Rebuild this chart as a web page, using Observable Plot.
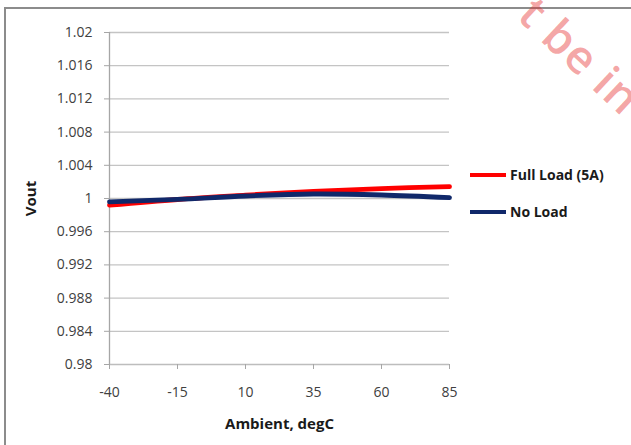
<!DOCTYPE html>
<html>
<head>
<meta charset="utf-8">
<script src="https://cdn.jsdelivr.net/npm/d3@7"></script>
<script src="https://cdn.jsdelivr.net/npm/@observablehq/plot@0.6"></script>
<style>
  html, body { margin: 0; padding: 0; background: #fff; }
  #wrap { position: relative; width: 631px; height: 445px; overflow: hidden; font-family: "Open Sans", sans-serif; }
  #frame { position: absolute; left: 4px; top: 7px; width: 640px; height: 460px; border-left: 2px solid #8c8c8c; border-top: 2px solid #8c8c8c; }
  #chart { position: absolute; left: 0; top: 0; }
  .legend { position: absolute; left: 470px; font-family: "Open Sans", sans-serif; font-weight: bold; font-size: 14px; color: #1a1a1a; display: flex; align-items: center; }
  .legend span.sw { display: inline-block; width: 36px; height: 4px; margin-right: 4px; }
  #wm { position: absolute; left: 549px; top: -18px; transform-origin: 0 0; transform: rotate(43deg); font-family: "Open Sans", sans-serif; font-weight: 600; font-size: 46px; color: rgba(230, 40, 40, 0.42); white-space: nowrap; letter-spacing: 1px; }
</style>
</head>
<body>
<div id="wrap">
  <div id="frame"></div>
  <div id="chart"></div>
  <div class="legend" id="lg1" style="top:165px"><span class="sw" style="background:#ff0000"></span>Full Load (5A)</div>
  <div class="legend" id="lg2" style="top:202px"><span class="sw" style="background:#10286a"></span>No Load</div>
  <div id="wm">t be in</div>
</div>
<script>
const temps = [-40, -15, 10, 35, 60, 85];
const fullLoad = [0.9992, 0.99988, 1.0004, 1.00087, 1.0012, 1.00143];
const noLoad = [0.9996, 0.9999, 1.0003, 1.00054, 1.00042, 1.0001];
const yTicks = [0.98, 0.984, 0.988, 0.992, 0.996, 1, 1.004, 1.008, 1.012, 1.016, 1.02];
const yTickLabels = ["0.98", "0.984", "0.988", "0.992", "0.996", "1", "1.004", "1.008", "1.012", "1.016", "1.02"];
const xTicks = [-40, -15, 10, 35, 60, 85];
const seriesNames = ["Full Load (5A)", "No Load"];
const seriesColors = ["#ff0000", "#10286a"];

const rows = [];
temps.forEach((t, i) => rows.push({t, v: fullLoad[i], s: seriesNames[0]}));
temps.forEach((t, i) => rows.push({t, v: noLoad[i], s: seriesNames[1]}));

const chart = Plot.plot({
  width: 631,
  height: 445,
  marginLeft: 109,
  marginRight: 182,
  marginTop: 32,
  marginBottom: 81,
  style: {fontFamily: "'Open Sans', sans-serif", fontSize: "14px", color: "#404040", background: "transparent"},
  x: {domain: [-40, 85]},
  y: {domain: [0.98, 1.02]},
  color: {domain: seriesNames, range: seriesColors},
  marks: [
    Plot.ruleY(yTicks.slice(1), {stroke: "#c4c4c4", strokeWidth: 1.3}),
    Plot.ruleY([0.98], {stroke: "#bdbdbd", strokeWidth: 1.5}),
    Plot.ruleX([-40], {stroke: "#a6a6a6", strokeWidth: 1.3}),
    Plot.axisY({ticks: yTicks, tickFormat: (d, i) => yTickLabels[i], tickSize: 5, tickPadding: 12, stroke: "#a6a6a6", color: "#404040",
      label: "Vout", labelAnchor: "center", labelOffset: 84, labelArrow: "none"}),
    Plot.axisX({ticks: xTicks, tickFormat: d => String(d), tickSize: 5, tickPadding: 18, stroke: "#a6a6a6", color: "#404040",
      label: "Ambient, degC", labelAnchor: "center", labelOffset: 64, labelArrow: "none"}),
    Plot.line(rows, {x: "t", y: "v", z: "s", stroke: "s", strokeWidth: 4.8, curve: "catmull-rom"})
  ]
});
chart.querySelectorAll("[aria-label='y-axis label'], [aria-label='x-axis label']").forEach(g => {
  g.setAttribute("font-weight", "bold");
  g.setAttribute("fill", "#1a1a1a");
  g.setAttribute("font-size", "15px");
  g.querySelectorAll("text").forEach(t => {
    t.setAttribute("font-weight", "bold");
    t.setAttribute("fill", "#1a1a1a");
    t.textContent = t.textContent.replace(/\s*[→↑←↓]\s*/g, "").trim();
  });
});
document.getElementById("chart").appendChild(chart);
</script>
</body>
</html>
